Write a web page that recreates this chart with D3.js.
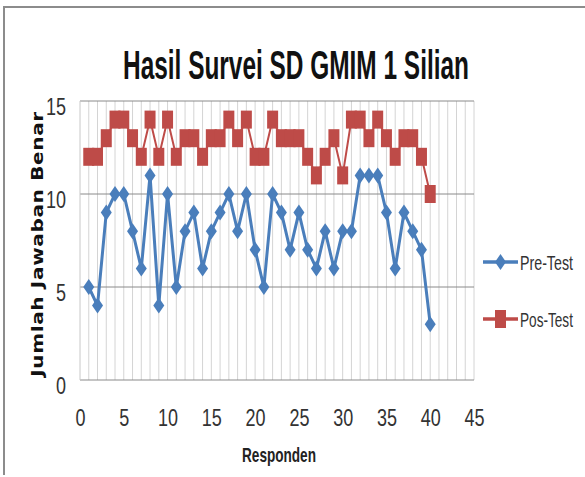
<!DOCTYPE html>
<html>
<head>
<meta charset="utf-8">
<script src="https://cdn.jsdelivr.net/npm/d3@7"></script>
<style>
    html, body { margin: 0; padding: 0; background: #ffffff; }
    text { font-family: "Liberation Sans Narrow", "Liberation Sans", sans-serif; fill: #222; }
</style>
</head>
<body>
<div id="chart"></div>
<script>
const width = 585;
const height = 477;

// 回答者番号
const responden = d3.range(1, 41);

// Pre-Test の正答数
const preTest = [5, 4, 9, 10, 10, 8, 6, 11, 4, 10, 5, 8, 9, 6, 8, 9, 10, 8, 10, 7,
    5, 10, 9, 7, 9, 7, 6, 8, 6, 8, 8, 11, 11, 11, 9, 6, 9, 8, 7, 3];

// Pos-Test の正答数
const posTest = [12, 12, 13, 14, 14, 13, 12, 14, 12, 14, 12, 13, 13, 12, 13, 13, 14, 13, 14, 12,
    12, 14, 13, 13, 13, 12, 11, 12, 13, 11, 14, 14, 13, 14, 13, 12, 13, 13, 12, 10];

const xTicks = [0, 5, 10, 15, 20, 25, 30, 35, 40, 45];
const yTicks = [0, 5, 10, 15];
const seriesNames = ["Pre-Test", "Pos-Test"];

const blue = "#4a7ebb";
const red = "#be4b48";

const svg = d3
    .select("#chart")
    .append("svg")
    .attr("width", width)
    .attr("height", height);

// 文字を横方向に縮めて指定幅に合わせる
function fitWidth(sel, cx, cy, targetWidth, rotate) {
    sel.each(function () {
        const w = this.getComputedTextLength();
        const sx = targetWidth / w;
        d3.select(this).attr("x", 0).attr("y", 0)
            .attr("transform", `translate(${cx},${cy})${rotate ? " rotate(-90)" : ""} scale(${sx},1)`);
    });
}

// 枠線
svg.append("path")
    .attr("d", "M4,475 L4,7 L585,7")
    .attr("fill", "none")
    .attr("stroke", "#8c8c8c")
    .attr("stroke-width", 2);

const x = d3.scaleLinear().domain([0, 45]).range([80, 474]);
const y = d3.scaleLinear().domain([0, 15]).range([380, 101]);

// 縦の補助線
svg.append("g")
    .selectAll("line")
    .data(d3.range(1, 46))
    .enter()
    .append("line")
    .attr("x1", d => x(d))
    .attr("x2", d => x(d))
    .attr("y1", y(15))
    .attr("y2", y(0))
    .attr("stroke", "#d4d4d4")
    .attr("stroke-width", 1);

// 横の目盛線
svg.append("g")
    .selectAll("line")
    .data(yTicks)
    .enter()
    .append("line")
    .attr("x1", x(0))
    .attr("x2", x(45))
    .attr("y1", d => y(d))
    .attr("y2", d => y(d))
    .attr("stroke", "#8a8a8a")
    .attr("stroke-width", 1);

// 縦軸の線
svg.append("line")
    .attr("x1", x(0)).attr("x2", x(0))
    .attr("y1", y(15)).attr("y2", y(0))
    .attr("stroke", "#c8c8c8");

// X軸ラベル
const xAxis = svg.append("g")
    .attr("transform", `translate(0,${y(0)})`)
    .call(d3.axisBottom(x).tickValues(xTicks).tickSize(0).tickPadding(0));
xAxis.select(".domain").remove();
xAxis.selectAll("text")
    .attr("y", 46)
    .attr("dy", 0)
    .attr("transform", "scale(0.75,1)")
    .style("font-family", "'Liberation Sans Narrow', sans-serif")
    .style("font-size", "24px")
    .style("fill", "#333");

// Y軸ラベル
const yAxis = svg.append("g")
    .attr("transform", `translate(66,0)`)
    .call(d3.axisLeft(y).tickValues(yTicks).tickSize(0).tickPadding(0));
yAxis.select(".domain").remove();
yAxis.selectAll("text")
    .attr("x", 0)
    .attr("dy", "0.55em")
    .attr("transform", "scale(0.75,1)")
    .style("font-family", "'Liberation Sans Narrow', sans-serif")
    .style("font-size", "24px")
    .style("fill", "#333");

// タイトル
const title = svg.append("text")
    .attr("text-anchor", "middle")
    .style("font-weight", "bold")
    .style("font-size", "41px")
    .style("fill", "#111")
    .text("Hasil Survei SD GMIM 1 Silian");
fitWidth(title, 296, 79, 346);

// 軸タイトル
const xTitle = svg.append("text")
    .attr("text-anchor", "middle")
    .style("font-weight", "bold")
    .style("font-size", "20px")
    .text("Responden");
fitWidth(xTitle, 279, 462, 74);

const yTitle = svg.append("text")
    .attr("text-anchor", "middle")
    .style("font-family", "'DejaVu Sans', sans-serif")
    .style("font-weight", "bold")
    .style("font-size", "15px")
    .style("letter-spacing", "0.5px")
    .style("fill", "#111")
    .text("Jumlah Jawaban Benar");
fitWidth(yTitle, 43, 244, 266, true);

const diamond = "M0,-8 L5.5,0 L0,8 L-5.5,0 Z";
const square = "M-5.5,-9 H5.5 V9 H-5.5 Z";

const line = d3.line()
    .x(d => x(d[0]))
    .y(d => y(d[1]));

// Pos-Test
const posData = responden.map((r, i) => [r, posTest[i]]);
svg.append("path")
    .datum(posData)
    .attr("d", line)
    .attr("fill", "none")
    .attr("stroke", red)
    .attr("stroke-width", 2);
svg.append("g")
    .selectAll("path")
    .data(posData)
    .enter()
    .append("path")
    .attr("transform", d => `translate(${x(d[0])},${y(d[1])})`)
    .attr("d", square)
    .attr("fill", red);

// Pre-Test
const preData = responden.map((r, i) => [r, preTest[i]]);
svg.append("path")
    .datum(preData)
    .attr("d", line)
    .attr("fill", "none")
    .attr("stroke", blue)
    .attr("stroke-width", 3);
svg.append("g")
    .selectAll("path")
    .data(preData)
    .enter()
    .append("path")
    .attr("transform", d => `translate(${x(d[0])},${y(d[1])})`)
    .attr("d", diamond)
    .attr("fill", blue);

// 凡例
const legend = svg.append("g")
    .selectAll("g")
    .data(seriesNames)
    .enter()
    .append("g")
    .attr("transform", (d, i) => `translate(483,${262 + i * 57})`);

legend.append("line")
    .attr("x1", 0).attr("x2", 35)
    .attr("stroke", (d, i) => i === 0 ? blue : red)
    .attr("stroke-width", 3.5);
legend.append("path")
    .attr("transform", "translate(17.5,0)")
    .attr("d", (d, i) => i === 0 ? diamond : square)
    .attr("fill", (d, i) => i === 0 ? blue : red);
legend.each(function (d, i) {
    const t = d3.select(this).append("text")
        .attr("dy", "0.36em")
        .style("font-size", "21px")
        .style("fill", "#333")
        .text(d);
    fitWidth(t, 37, 0, 53);
});
</script>
</body>
</html>
